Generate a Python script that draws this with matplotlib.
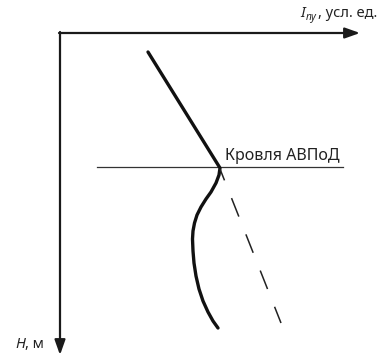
import matplotlib.pyplot as plt

plt.rcParams['font.family'] = ['Noto Sans', 'DejaVu Sans']

# intensity I (усл. ед.) vs depth H (м), measured curve
i_meas = [88, 160, 159, 156, 151, 146, 141, 137, 134.5, 133, 132.5, 133,
          134, 136, 139, 143, 148, 153, 158]
h_meas = [19, 135, 142, 150, 159, 166, 174, 182, 190, 198, 206, 218,
          230, 243, 256, 268, 279, 288, 295]

# background trend continued below the roof
i_trend = [160, 221]
h_trend = [136, 290]

# roof of the aquifer
roof_h = 134
roof_i = [37, 283]

i_axis_end = 300
h_axis_end = 322

fig = plt.figure(figsize=(3.82, 3.57), dpi=100)
ax = fig.add_axes([0, 0, 1, 1])
ax.set_xlim(-60, 322)
ax.set_ylim(324, -33)
ax.axis('off')

arrow = dict(arrowstyle='-|>,head_length=0.9,head_width=0.32', lw=1.6,
             color='#1a1a1a', shrinkA=0, shrinkB=0)
ax.annotate('', xy=(i_axis_end, 0), xytext=(-1, 0), arrowprops=arrow)
ax.annotate('', xy=(0, h_axis_end), xytext=(0, -1), arrowprops=arrow)

ax.plot(roof_i, [roof_h, roof_h], color='#333333', lw=0.9)
ax.plot(i_meas, h_meas, color='#111111', lw=2.4, solid_joinstyle='round',
        solid_capstyle='round')
ax.plot(i_trend, h_trend, color='#222222', lw=1.1,
        linestyle=(5, (13, 12.5)))

ax.text(165, 127, 'Кровля АВПоД', fontsize=11.5, color='#222222', ha='left',
        va='baseline')

# axis captions
ax.text(240, -16, 'I', fontsize=10.5, style='italic', color='#222222',
        va='baseline')
ax.text(246, -13, 'пу', fontsize=7.5, style='italic', color='#222222',
        va='baseline')
ax.text(257.5, -16, ', усл. ед.', fontsize=10.5, color='#222222',
        va='baseline')
ax.text(-45, 315, 'H', fontsize=10.5, style='italic', color='#222222',
        va='baseline')
ax.text(-35, 315, ', м', fontsize=10.5, color='#222222', va='baseline')

fig.savefig('out.png', dpi=100)
